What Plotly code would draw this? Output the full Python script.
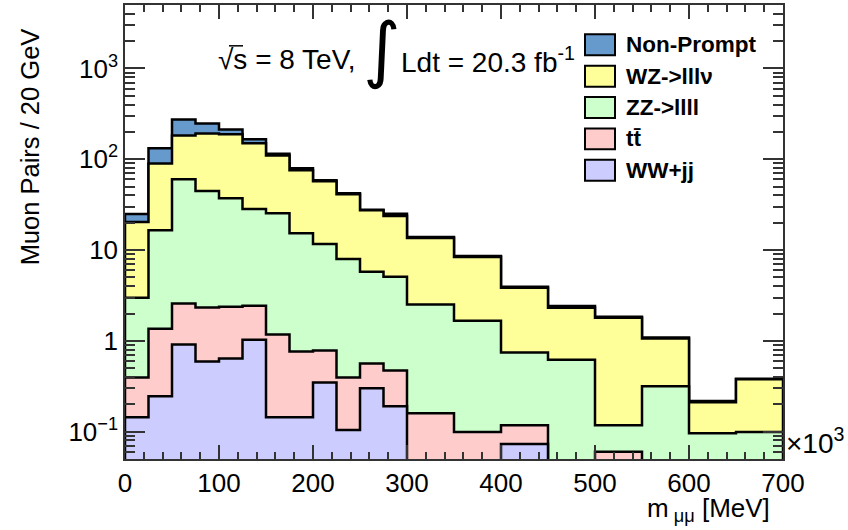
import numpy as np
import plotly.graph_objects as go

# ---------------- data ----------------
bin_edges = [0, 25, 50, 75, 100, 125, 150, 175, 200, 225, 250, 275, 300,
             350, 400, 450, 500, 550, 600, 650, 700]

# per-bin yields (bottom of stack first)
ww_jj = [0.144, 0.245, 0.912, 0.594, 0.640, 1.03, 0.144, 0.144, 0.349, 0.104,
         0.301, 0.190, 0.0, 0.0, 0.073, 0.0, 0.0, 0.0, 0.0, 0.0]
ttbar = [0.252, 1.115, 1.66, 1.73, 1.74, 1.41, 1.03, 0.62, 0.434, 0.292,
         0.264, 0.283, 0.160, 0.099, 0.045, 0.0, 0.060, 0.0, 0.0, 0.0]
zz_llll = [2.59, 15.2, 57.7, 42.3, 34.9, 25.9, 24.3, 14.6, 10.9, 7.6,
           5.2, 4.6, 2.35, 1.57, 0.627, 0.62, 0.058, 0.316, 0.096, 0.099]
wz_lllv = [17.4, 73.4, 123, 148, 151, 122, 84.5, 60.3, 45.6, 33.3,
           21.7, 18.6, 11.1, 6.74, 3.1, 1.70, 1.68, 0.744, 0.115, 0.278]
non_prompt = [4.5, 42, 91, 55, 25, 16, 5, 4, 1.5, 1.0,
              0.4, 1.5, 0.3, 0.2, 0.1, 0.1, 0.05, 0.03, 0.006, 0.006]

names = ["WW+jj", "t<span>t\u0304</span>", "ZZ->llll", "WZ->lllν", "Non-Prompt"]
colors = ["#CCCCFF", "#FFCCCC", "#CCFFCC", "#FFFF99", "#6699CC"]
series = [ww_jj, ttbar, zz_llll, wz_lllv, non_prompt]

y_ticks = [0.1, 1, 10, 100, 1000]
y_ticktext = ["10<sup>−1</sup>", "1", "10", "10<sup>2</sup>", "10<sup>3</sup>"]

# ---------------- figure ----------------
W, H = 848, 530
L, R, T, B = 125, 65, 3, 71
pw, ph = W - L - R, H - T - B

def px(x):
    return (x - L) / pw

def py(y):
    return (H - B - y) / ph

floor = 1e-3
cum = np.cumsum(np.array(series, dtype=float), axis=0)

fig = go.Figure()
for k in range(len(series) - 1, -1, -1):
    xs, ys = [bin_edges[0]], [floor]
    for i in range(len(bin_edges) - 1):
        v = cum[k][i] if cum[k][i] > 0 else floor
        xs += [bin_edges[i], bin_edges[i + 1]]
        ys += [v, v]
    xs += [bin_edges[-1], bin_edges[0]]
    ys += [floor, floor]
    fig.add_trace(go.Scatter(x=xs, y=ys, mode="lines", fill="toself",
                             fillcolor=colors[k],
                             line=dict(color="black", width=2.5),
                             showlegend=False, hoverinfo="skip"))

minor_y = []
for d in [0.01, 0.1, 1, 10, 100, 1000]:
    for m in range(2, 10):
        v = d * m
        if 0.05 <= v <= 5000:
            minor_y.append(v)

font = "Liberation Sans, Arial, Helvetica, sans-serif"
axcol = "#333333"

fig.update_layout(
    width=W, height=H,
    margin=dict(l=L, r=R, t=T, b=B),
    paper_bgcolor="white", plot_bgcolor="white",
    font=dict(family=font, size=26, color="black"),
    showlegend=False,
    xaxis=dict(range=[0, 700], showline=True, linecolor=axcol, linewidth=1.5,
               mirror="allticks", ticks="inside", ticklen=14, tickwidth=1.5,
               tickcolor=axcol, tick0=0, dtick=100, showgrid=False,
               zeroline=False, tickfont=dict(size=26),
               minor=dict(ticks="inside", ticklen=7, tickwidth=1.5,
                          tickcolor=axcol, dtick=20, tick0=0, showgrid=False)),
    yaxis=dict(type="log", range=[np.log10(0.05), np.log10(5000)],
               showline=True, linecolor=axcol, linewidth=1.5,
               mirror="allticks", ticks="inside", ticklen=20, tickwidth=1.5,
               tickcolor=axcol, tickmode="array", tickvals=y_ticks,
               ticktext=y_ticktext, showgrid=False, zeroline=False,
               tickfont=dict(size=26),
               minor=dict(ticks="inside", ticklen=10, tickwidth=1.5,
                          tickcolor=axcol, tickmode="array", tickvals=minor_y,
                          showgrid=False)),
)

ann = []
# axis titles
ann.append(dict(text="Muon Pairs / 20 GeV", xref="paper", yref="paper",
                x=px(30), y=py(146), textangle=-90, showarrow=False,
                xanchor="center", yanchor="middle", font=dict(size=25.5)))
ann.append(dict(text="m<sub> μμ</sub> [MeV]", xref="paper", yref="paper",
                x=px(772), y=py(510), showarrow=False,
                xanchor="right", yanchor="middle", font=dict(size=26)))
ann.append(dict(text="×10<sup>3</sup>", xref="paper", yref="paper",
                x=px(784), y=py(441), showarrow=False,
                xanchor="left", yanchor="middle", font=dict(size=28)))
# energy / lumi
ann.append(dict(text="√s = 8 TeV,", xref="paper", yref="paper",
                x=px(216), y=py(58), showarrow=False,
                xanchor="left", yanchor="middle", font=dict(size=28)))
ann.append(dict(text="∫", xref="paper", yref="paper",
                x=px(382), y=py(47), showarrow=False,
                xanchor="center", yanchor="middle",
                font=dict(size=72, family="DejaVu Sans")))
ann.append(dict(text="Ldt = 20.3 fb<sup>-1</sup>", xref="paper", yref="paper",
                x=px(399), y=py(58), showarrow=False,
                xanchor="left", yanchor="middle", font=dict(size=28)))

shapes = []
# overline of the square root
shapes.append(dict(type="line", xref="paper", yref="paper",
                   x0=px(229), x1=px(243), y0=py(44), y1=py(44),
                   line=dict(color="black", width=1.5)))

# manual legend (top entry first)
order = list(range(len(series) - 1, -1, -1))
for j, k in enumerate(order):
    yc = 43 + j * 31.5
    shapes.append(dict(type="rect", xref="paper", yref="paper",
                       x0=px(585), x1=px(615), y0=py(yc + 10.5), y1=py(yc - 10.5),
                       fillcolor=colors[k], line=dict(color="black", width=2)))
    ann.append(dict(text="<b>" + names[k] + "</b>", xref="paper", yref="paper",
                    x=px(624), y=py(yc), showarrow=False,
                    xanchor="left", yanchor="middle", font=dict(size=22.5)))

fig.update_layout(annotations=ann, shapes=shapes)
fig.write_html("out.html")
